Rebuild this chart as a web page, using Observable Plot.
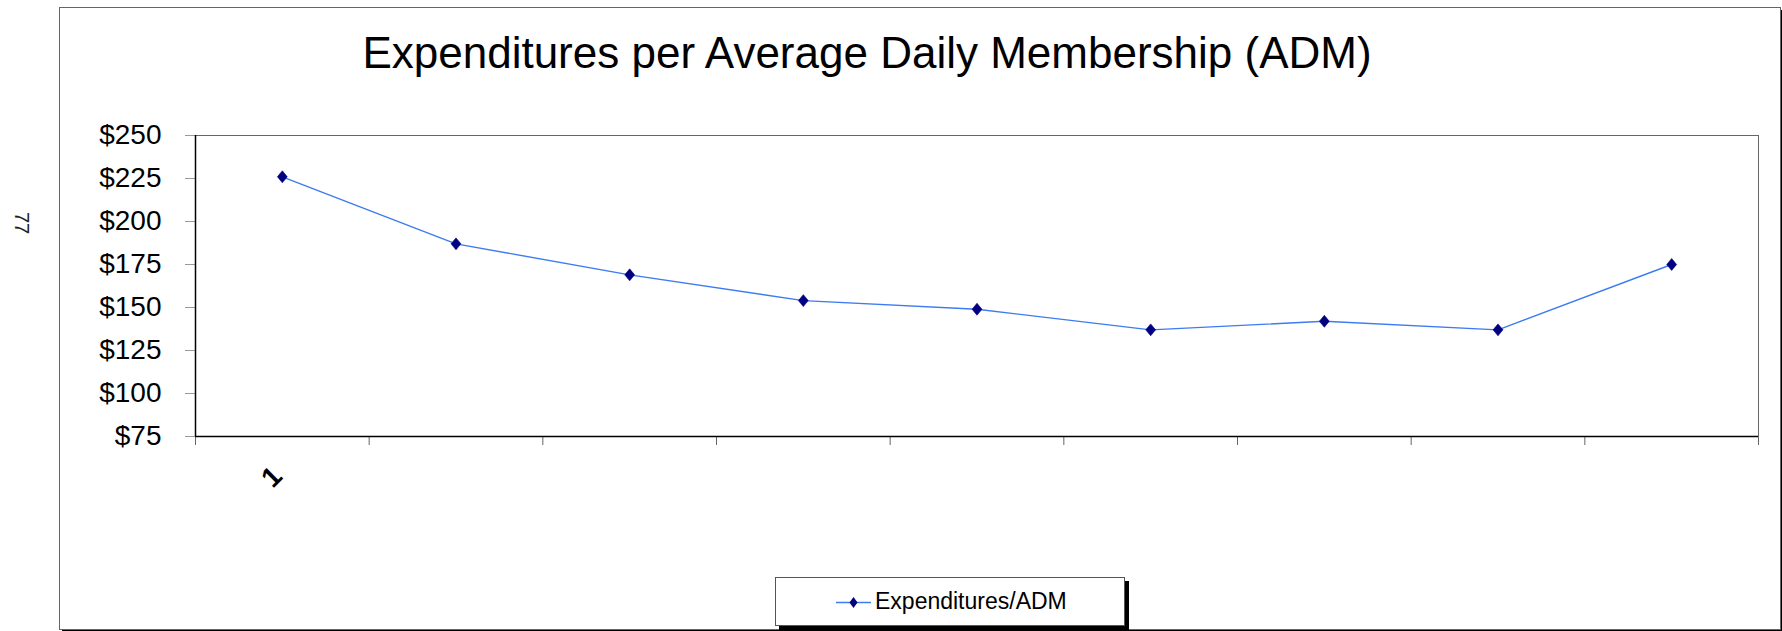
<!DOCTYPE html>
<html>
<head>
<meta charset="utf-8">
<script src="https://cdn.jsdelivr.net/npm/d3@7"></script>
<script src="https://cdn.jsdelivr.net/npm/@observablehq/plot@0.6"></script>
<style>
  html, body { margin: 0; padding: 0; background: white; }
  #wrap { position: relative; width: 1782px; height: 631px; overflow: hidden; background: white;
          font-family: "Liberation Sans", Arial, sans-serif; }
  #outer { position: absolute; left: 59px; top: 7px; width: 1722px; height: 623px; box-sizing: border-box;
           border: 1px solid #666; box-shadow: 3px 3px 0 #000; background: white; }
  #chart { position: absolute; left: 0; top: 0; }
  #title { position: absolute; left: 0; width: 1734px; top: 31px; text-align: center; font-size: 44px;
           line-height: 44px; color: #000; white-space: nowrap; }
  #note { position: absolute; left: 7px; top: 211px; width: 30px; height: 24px; line-height: 24px;
          text-align: center; font-size: 20px; color: #222; transform: rotate(90deg); }
  #legend { position: absolute; left: 775px; top: 577px; width: 350px; height: 49px; box-sizing: border-box;
            border: 1px solid #555; box-shadow: 4px 4px 0 #000; background: white; }
  #legend svg { position: absolute; left: 60px; top: 12px; }
  #legend span { position: absolute; left: 99px; top: 0; line-height: 47px; font-size: 23px; color: #000; white-space: nowrap; }
</style>
</head>
<body>
<div id="wrap">
  <div id="outer"></div>
  <div id="chart"></div>
  <div id="title"></div>
  <div id="note"></div>
  <div id="legend"></div>
</div>
<script>
// ---- data ----
const title = "Expenditures per Average Daily Membership (ADM)";
const seriesName = "Expenditures/ADM";
const sideNote = "77";
const categories = [1, 2, 3, 4, 5, 6, 7, 8, 9];
const xLabels = ["1", "", "", "", "", "", "", "", ""];
const values = [226, 187, 169, 154, 149, 137, 142, 137, 175];
const yTicks = [75, 100, 125, 150, 175, 200, 225, 250];

// ---- colours ----
const lineColor = "#3d7bf2";
const markerColor = "#000080";

// Excel-style diamond marker (slightly taller than wide)
const excelDiamond = {
  draw(context, size) {
    const r = Math.sqrt(size / Math.PI);
    const h = r * 1.15, w = r * 0.95;
    context.moveTo(0, -h);
    context.lineTo(w, 0);
    context.lineTo(0, h);
    context.lineTo(-w, 0);
    context.closePath();
  }
};

const data = categories.map((c, i) => ({pos: i + 0.5, value: values[i], label: xLabels[i]}));
const boundaries = d3.range(0, categories.length + 1);

const chart = Plot.plot({
  width: 1782,
  height: 631,
  marginLeft: 195,
  marginRight: 24,
  marginTop: 135,
  marginBottom: 195,
  style: {fontFamily: "Liberation Sans, Arial, sans-serif", fontSize: "28px", color: "black", background: "transparent", overflow: "visible"},
  x: {type: "linear", domain: [0, categories.length], axis: null},
  y: {domain: [yTicks[0], yTicks[yTicks.length - 1]], axis: null},
  marks: [
    Plot.frame({stroke: "#666"}),
    Plot.axisY({ticks: yTicks, tickSize: 10, tickPadding: 24, tickFormat: d => `$${d}`, stroke: "#999", label: null, fontSize: 28}),
    Plot.axisX({ticks: boundaries, tickSize: 9, tickFormat: () => "", stroke: "#666", label: null}),
    Plot.ruleY([yTicks[0]], {stroke: "black", strokeWidth: 1.5}),
    Plot.ruleX([0], {stroke: "black", strokeWidth: 1.5}),
    Plot.line(data, {x: "pos", y: "value", stroke: lineColor, strokeWidth: 1.4}),
    Plot.dot(data, {x: "pos", y: "value", symbol: excelDiamond, r: 5.2, fill: markerColor, stroke: markerColor, strokeWidth: 0.6}),
    Plot.text(data, {x: "pos", text: "label", frameAnchor: "bottom", dy: 47, dx: -4, rotate: -45, fontSize: 28, fontWeight: 600, fill: "black"})
  ]
});
document.getElementById("chart").appendChild(chart);

document.getElementById("title").textContent = title;
document.getElementById("note").textContent = sideNote;

const legend = document.getElementById("legend");
legend.innerHTML = `<svg width="36" height="24" viewBox="0 0 36 24">
  <line x1="0" y1="12.5" x2="35" y2="12.5" stroke="${lineColor}" stroke-width="1.4"></line>
  <path d="M17.5,7 L21.5,12.5 L17.5,18 L13.5,12.5 Z" fill="${markerColor}"></path>
</svg><span></span>`;
legend.querySelector("span").textContent = seriesName;
</script>
</body>
</html>
